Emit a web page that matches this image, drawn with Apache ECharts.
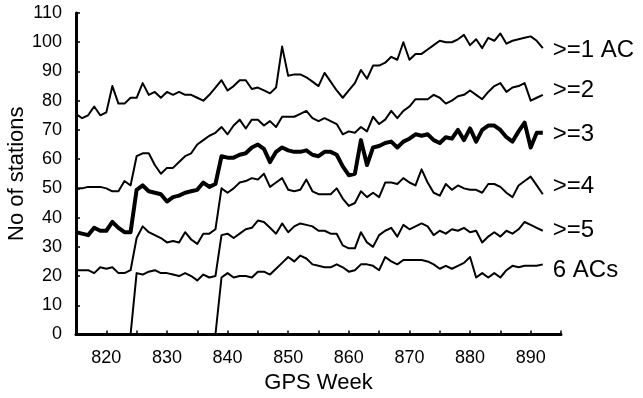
<!DOCTYPE html>
<html>
<head>
<meta charset="utf-8">
<script src="https://cdn.jsdelivr.net/npm/echarts@6/dist/echarts.min.js"></script>
<style>
html, body { margin: 0; padding: 0; background: #fff; }
#main { width: 643px; height: 398px; }
</style>
</head>
<body>
<div id="main"></div>
<script>
var weeks = [815,816,817,818,819,820,821,822,823,824,825,826,827,828,829,830,831,832,833,834,
	835,836,837,838,839,840,841,842,843,844,845,846,847,848,849,850,851,852,853,854,
	855,856,857,858,859,860,861,862,863,864,865,866,867,868,869,870,871,872,873,874,
	875,876,877,878,879,880,881,882,883,884,885,886,887,888,889,890,891,892];

var ac1 = [75.5,74,75,78,75,76,85,79,79,81, 81,86,82,83,81,83,82,83,82,82,
	81,80,82,84.5,87,83.5,85,87,87,84, 84.5,83.5,82.5,84.5,98.5,88.5,89,89,88,86.5,
	85,89.5,86.5,83.5,81,83.5,86,90.5,87.5,92, 92,93,95,94,100,94,96,96,97.5,99,
	100.5,100,100,101,102.5,99,101,98,101.5,100.5, 103,99.5,100.5,101,101.5,102,100.5,98];
var ac2 = [50,50,50.5,50.5,50.5,50,49,49,52.5,51, 61,62,62,58,55,57,57,59,61,62,
	65,66.5,68,69,71,68.5,71.5,73.5,70.5,73.5, 73.5,71.5,73,71,74.5,74.5,74.5,75.5,76.5,74,
	73,74,73,72,68.5,69.5,69,71,69.5,74.5, 72,73.5,76.5,74,76.5,78,80.5,80.5,80.5,82,
	81,79,80,81.5,82,83.5,82,80.5,83,85, 86,83,84.5,85,86,80,81,82];
var ac3 = [35,34.5,34,36.5,35.5,35.5,38.5,36.5,35,35, 49.5,51,49,48.5,48,45.5,47,47.5,48.5,49,
	49.5,52,50.5,51.5,61,60.5,60.5,61.5,62,64, 65,63.5,59,62.5,64,63,62.5,62.5,63,61.5,
	61,62.5,62.5,61.5,57.5,54.5,55,66.5,58,64, 64.5,65.5,66,64,66,67,68.5,68,68.5,66.5,
	65.5,67.5,67,70,66.5,70.5,66,70,71.5,71.5, 70,67.5,66,69.5,72.5,64,69,69];
var ac4 = [22,22,22,21,23,22.5,23,21,21,22, 33,37,35,34,33,31.5,32,31.5,35,32.5,
	31,34.5,34.5,36,50,48.5,50,52,52.5,53.5, 53,55,50.5,52,53.5,49.5,49,49.5,53,49,
	48,48,48,50,46.5,44,45,49,47,48.5, 47,52,52,51.5,53.5,52,51,56.5,52,48.5,
	47.5,51.5,49.5,51,50,49.5,49.5,48.5,51.5,51.5, 50.5,48.5,47,51,52.5,54,51,48];
var ac5 = [0,0,0,0,0,0,0,0,0,0, 21,20.5,21.5,22,21,21,20.5,20,21,20,
	18.5,20.5,19.5,20,34,34.5,33,34.5,36,36.5, 39,38.5,36.5,34.5,38,35,37,38,37.5,37,
	35.5,35.5,34.5,34.5,30.5,29.5,29.5,35,31.5,30, 34,35.5,36.5,33.5,37.5,36,37,38,37,34,
	35.5,34.5,36,35.5,36.5,35,35.5,31.5,33.5,35, 33.5,35.5,34.5,36,38.5,37.5,36.5,35.5];
var ac6 = [0,0,0,0,0,0,0,0,0,0, 0,0,0,0,0,0,0,0,0,0,
	0,0,0,0,19.5,21,19.5,20,20,19.5, 21.5,21.5,20.5,22.5,24.5,26.5,25,27,26,24,
	23.5,23,23,24,23,21.5,22,24,24,23.5, 22,26.5,25,24,25.5,25.5,25.5,25.5,25,24,
	22.5,23.5,22.5,23.5,24.5,26.5,19.5,21,19.5,21, 19.5,22,23.5,23,23.5,23.5,23.5,24];

var names = ['>=1 AC', '>=2', '>=3', '>=4', '>=5', '6 ACs'];
var values = [ac1, ac2, ac3, ac4, ac5, ac6];
var widths = [2, 2, 4, 2, 2, 2];
var labelShift = [2, -4, 2, -8, 0, 6];

var font = 'Liberation Sans, Arial, sans-serif';

function pairs(v) {
	var out = [];
	for (var i = 0; i < weeks.length; i++) out.push([weeks[i], v[i]]);
	return out;
}

var series = [];
for (var s = 0; s < names.length; s++) {
	series.push({
		name: names[s],
		type: 'line',
		data: pairs(values[s]),
		showSymbol: false,
		symbol: 'none',
		lineStyle: {color: '#000', width: widths[s], join: 'round'},
		endLabel: {
			show: true,
			formatter: '{a}',
			distance: 10,
			offset: [0, labelShift[s]],
			color: '#000',
			fontSize: 24,
			fontFamily: font
		}
	});
}

var myChart = echarts.init(document.getElementById('main'));
myChart.setOption({
	animation: false,
	grid: {left: 76, right: 82, top: 13, bottom: 63.5, outerBoundsMode: 'none', containLabel: false},
	xAxis: {
		type: 'value',
		min: 815,
		max: 895,
		interval: 5,
		name: 'GPS Week',
		nameLocation: 'middle',
		nameGap: 37,
		nameMoveOverlap: false,
		nameTextStyle: {color: '#000', fontSize: 22, fontFamily: font},
		axisLine: {lineStyle: {color: '#000', width: 3}},
		axisTick: {inside: true, length: 4, lineStyle: {color: '#000', width: 1.5}},
		axisLabel: {
			color: '#000', fontSize: 18, fontFamily: font, margin: 15,
			formatter: function (v) { return v % 10 === 0 ? v : ''; }
		},
		splitLine: {show: false}
	},
	yAxis: {
		type: 'value',
		min: 0,
		max: 110,
		interval: 10,
		name: 'No of stations',
		nameLocation: 'middle',
		nameGap: 48,
		nameMoveOverlap: false,
		nameTextStyle: {color: '#000', fontSize: 22, fontFamily: font},
		axisLine: {show: true, lineStyle: {color: '#000', width: 3}},
		axisTick: {show: true, inside: true, length: 4, lineStyle: {color: '#000', width: 1.5}},
		axisLabel: {color: '#000', fontSize: 18, fontFamily: font, margin: 14},
		splitLine: {show: false}
	},
	series: series
});
</script>
</body>
</html>
